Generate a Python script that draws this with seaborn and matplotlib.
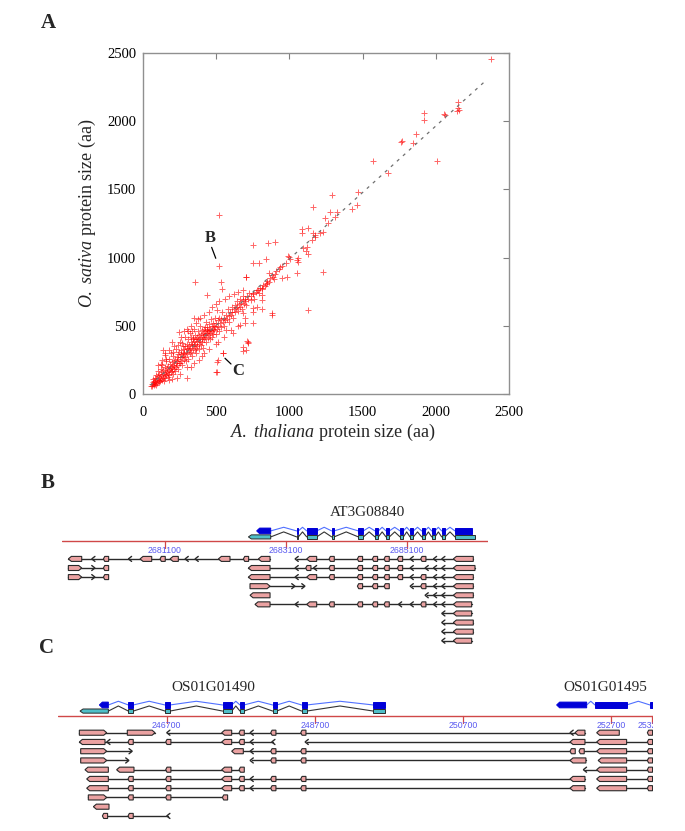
import numpy as np
import pandas as pd
import matplotlib
matplotlib.use("Agg")
import matplotlib.pyplot as plt
from matplotlib.patches import Polygon
import seaborn as sns

sns.set_style("white")
plt.rcParams['font.family'] = 'Liberation Serif'
plt.rcParams['mathtext.fontset'] = 'custom'
plt.rcParams['mathtext.rm'] = 'Liberation Serif'
plt.rcParams['mathtext.it'] = 'Liberation Serif:italic'

# ---------------- Panel A data: protein sizes (aa) ----------------
core_pts = [(55,62),(60,75),(62,58),(65,90),(68,70),(70,110),(72,64),(75,82),(78,95),(80,72),
    (82,120),(85,88),(88,66),(90,100),(92,140),(95,78),(98,115),(100,92),(102,170),(105,130),
    (108,85),(110,105),(112,150),(115,95),(118,125),(120,180),(122,110),(125,140),(128,100),(130,160),
    (132,210),(135,120),(138,145),(140,175),(142,95),(145,130),(148,200),(150,155),(152,118),(155,170),
    (158,240),(160,140),(162,190),(165,160),(168,125),(170,205),(172,150),(175,260),(178,175),(180,140),
    (182,220),(185,185),(188,160),(190,300),(192,200),(195,170),(198,235),(200,190),(202,150),(205,215),
    (208,280),(210,180),(212,240),(215,205),(218,165),(220,250),(222,225),(225,330),(228,195),(230,270),
    (232,240),(235,210),(238,290),(240,255),(242,180),(245,230),(248,310),(250,270),(252,225),(255,380),
    (258,290),(260,245),(262,320),(265,270),(268,210),(270,300),(272,350),(275,280),(278,250),(280,330),
    (282,300),(285,420),(288,270),(290,350),(292,310),(295,240),(298,330),(300,370),(302,290),(305,340),
    (308,260),(310,400),(312,320),(315,360),(318,300),(320,450),(322,340),(325,380),(328,310),(330,420),
    (332,350),(335,280),(338,370),(340,330),(342,400),(345,360),(348,480),(350,390),(352,320),(355,370),
    (358,430),(360,340),(362,400),(365,300),(368,380),(370,420),(372,350),(375,460),(378,400),(380,370),
    (382,330),(385,430),(388,390),(390,500),(392,410),(395,360),(398,440),(400,400),(402,470),(405,380),
    (408,420),(410,450),(412,340),(415,430),(418,480),(420,400),(422,460),(425,420),(428,530),(430,440),
    (432,380),(435,470),(438,450),(440,490),(442,410),(445,460),(448,430),(450,510),(452,470),(455,400),
    (458,480),(460,450),(462,550),(465,470),(468,420),(470,500),(472,460),(475,480),(478,520),(480,440),
    (485,500),(488,470),(490,560),(495,490),(498,440),(500,520),(505,480),(510,540),(515,500),(518,460),
    (520,560),(525,520),(530,490),(535,550),(540,600),(545,530),(550,500),(555,560),(560,540),(565,470),
    (570,580),(575,550),(580,620),(585,570),(590,530),(595,600),(600,580),(605,640),(610,600),(615,560),
    (620,620),(625,650),(630,600),(635,630),(640,680),(645,640),(650,610),(655,660),(660,700),(665,640),
    (670,670),(675,620),(680,690),(685,720),(690,660),(695,700),(700,680),(705,650),(710,720),(720,700),
    (725,740),(735,690),(740,720),(750,730),(760,700),(770,750),(780,760),(790,740),(800,780),(810,770),
    (820,800),(830,790),(840,810),(850,830),(860,820),(870,850),(880,870),(890,860),(900,880),(910,900),
    (930,920),(950,940),(980,960)]

spread_pts = [(160,260),(180,320),(210,350),(240,360),(130,250),(150,300),(120,220),(100,210),(260,420),
    (280,460),(300,480),(330,500),(360,520),(390,560),(420,580),(450,600),(470,640),(500,660),(520,680),
    (560,700),(590,720),(620,730),(650,750),(680,760),(200,110),(250,150),(300,200),(350,230),(400,280),
    (450,330),(500,370),(550,420),(600,470),(650,500),(700,560),(750,600),(780,640),(180,100),(230,120),
    (330,200),(380,250),(420,300),(248,457),(310,465),(335,465),(346,555),(423,493),(514,384),(544,298),
    (508,237),(499,164),(663,506),(719,376),(681,318),(150,286),(196,384),(299,115),(378,550),(508,616),
    (344,408),(268,371),(207,310),(139,323),(708,388),(685,347),(879,579),(617,444),(697,518),(685,591),
    (754,628),(811,623),(811,689),(811,726),(754,738),(783,762),(811,775),(845,811),(895,840),(704,860)]

outlier_pts = [(521,1312),(520,941),(530,823),(537,767),(355,823),(435,726),(754,1092),(856,1109),
    (902,1116),(749,958),(795,958),(840,987),(703,860),(879,591),(749,518),(719,384),(703,323),(549,303),
    (510,249),(503,164),(1000,1007),(1050,982),(936,933),(981,860),(947,848),(1050,885),(1095,1068),
    (1117,1080),(1112,1045),(1124,1030),(1084,1178),(1084,1207),(1129,1214),(1152,1129),(1163,1178),
    (1175,1154),(1159,1373),(1232,1185),(1232,897),(1129,616),(1061,995),(1243,1288),(1266,1251),
    (1277,1332),(1289,1459),(1311,1300),(1323,1336),(1425,1354),(1464,1385),(1471,1483),(1569,1708),
    (1676,1622),(1760,1850),(1846,1837),(1865,1903),(1921,2057),(1921,2008),(2010,1710),(2063,2045),
    (2377,2454),(2154,2143),(2154,2094),(2161,2082),(2147,2077),(2058,2053),(1767,1857),(863,889),
    (992,1012),(1004,987),(1061,970),(1209,1182),(1175,1165)]

fit_x = [50, 2350]
fit_y = [64, 2306]

pts = core_pts + spread_pts + outlier_pts
df = pd.DataFrame(pts, columns=["at", "os"])

# ---------------- Panel B data (genomic bp) ----------------
B_ticks = [2681100, 2683100, 2685100]
B_cds = [(2682615,2682847),(2683276,2683304),(2683442,2683607),(2683855,2683894),(2684296,2684378),
         (2684571,2684626),(2684753,2684808),(2684985,2685040),(2685150,2685205),(2685343,2685398),
         (2685508,2685563),(2685673,2685728),(2685893,2686169)]
B_utr = [(2682478,2682847),(2683276,2683304),(2683442,2683607),(2683855,2683894),(2684296,2684378),
         (2684571,2684626),(2684753,2684808),(2684985,2685040),(2685150,2685205),(2685343,2685398),
         (2685508,2685563),(2685673,2685728),(2685893,2686224)]
B_rows = [
    [[(2679502,2679723,'L'),(2679915,2679915,'l'),(2680125,2680125,'D'),(2680521,2680521,'l'),
      (2680687,2680880,'L'),(2681061,2681061,'D'),(2681183,2681320,'L'),(2681458,2681458,'l'),
      (2681623,2681623,'l'),(2681982,2682174,'L'),(2682439,2682439,'D'),(2682643,2682836,'L')],
     [(2683276,2683276,'l'),(2683442,2683607,'L'),(2683855,2683855,'D'),(2684323,2684323,'D'),
      (2684571,2684571,'D'),(2684764,2684764,'D'),(2684985,2684985,'D'),(2685178,2685178,'l'),
      (2685370,2685370,'D'),(2685563,2685563,'l'),(2685700,2685700,'l'),(2685866,2686196,'L')]],
    [[(2679502,2679723,'R'),(2679915,2679915,'r'),(2680125,2680125,'D')],
     [(2682478,2682836,'L'),(2683276,2683276,'l'),(2683469,2683469,'D'),(2683580,2683580,'l'),
      (2683855,2683855,'D'),(2684323,2684323,'D'),(2684571,2684571,'D'),(2684764,2684764,'D'),
      (2684985,2684985,'D'),(2685178,2685178,'l'),(2685425,2685425,'l'),(2685563,2685563,'l'),
      (2685700,2685700,'l'),(2685866,2686224,'L')]],
    [[(2679502,2679723,'R'),(2679915,2679915,'r'),(2680125,2680125,'D')],
     [(2682478,2682836,'L'),(2683276,2683276,'l'),(2683442,2683607,'L'),(2683855,2683855,'D'),
      (2684323,2684323,'D'),(2684571,2684571,'D'),(2684764,2684764,'D'),(2684985,2684985,'D'),
      (2685178,2685178,'l'),(2685370,2685370,'D'),(2685563,2685563,'l'),(2685700,2685700,'l'),
      (2685866,2686196,'L')]],
    [[(2682505,2682836,'R'),(2683221,2683221,'r'),(2683387,2683387,'r')],
     [(2684323,2684323,'D'),(2684571,2684571,'D'),(2684764,2684764,'D')],
     [(2685178,2685178,'l'),(2685370,2685370,'D'),(2685563,2685563,'l'),(2685700,2685700,'l'),
      (2685866,2686196,'L')]],
    [[(2682505,2682836,'L')],
     [(2685425,2685425,'l'),(2685563,2685563,'l'),(2685700,2685700,'l'),(2685866,2686196,'L')]],
    [[(2682588,2682836,'L'),(2683276,2683276,'l'),(2683442,2683607,'L'),(2683855,2683855,'D'),
      (2684323,2684323,'D'),(2684571,2684571,'D'),(2684764,2684764,'D'),(2684985,2684985,'l'),
      (2685178,2685178,'l'),(2685370,2685370,'D'),(2685563,2685563,'l'),(2685700,2685700,'l'),
      (2685866,2686169,'L')]],
    [[(2685700,2685700,'l'),(2685866,2686169,'L')]],
    [[(2685700,2685700,'l'),(2685866,2686196,'L')]],
    [[(2685700,2685700,'l'),(2685866,2686196,'L')]],
    [[(2685700,2685700,'l'),(2685866,2686169,'L')]],
]

# ---------------- Panel C data (genomic bp) ----------------
C_ticks = [246700, 248700, 250700, 252700, 253250]
C_tick_labels = ["246700", "248700", "250700", "252700", "253250"]
C_cds_490 = [(245792,245913),(246183,246250),(246678,246745),(247455,247577),(247689,247743),
             (248130,248184),(248521,248589),(249488,249645)]
C_utr_490 = [(245531,245913),(246183,246250),(246678,246745),(247455,247577),(247689,247743),
             (248130,248184),(248521,248589),(249488,249645)]
C_cds_495 = [(251961,252366),(252478,252905),(253220,253300)]
C_rows = [
    [[(245522,245891,'R'),(246169,246543,'R')],
     [(246722,246722,'l'),(247442,247577,'L'),(247712,247712,'D'),(247847,247847,'l'),(248139,248139,'D'),
      (248544,248544,'D'),(252163,252163,'l'),(252208,252343,'L')],
     [(252501,252806,'L')], [(253220,253220,'D')]],
    [[(245522,245868,'L'),(245913,245913,'l'),(246214,246214,'D'),(246722,246722,'D'),(247442,247577,'L'),
      (247712,247712,'D'),(247847,247847,'l'),(248139,248139,'l')],
     [(248589,248589,'l'),(252141,252343,'L'),(252501,252905,'L'),(253220,253220,'D')]],
    [[(245540,245891,'R'),(246214,246214,'r')],
     [(247577,247734,'L'),(247847,247847,'l'),(248139,248139,'D'),(248544,248544,'D'),(252177,252177,'D')],
     [(252298,252298,'D'),(252501,252905,'L'),(253220,253220,'D')]],
    [[(245540,245891,'R'),(246169,246169,'r')],
     [(247847,247847,'l'),(248139,248139,'D'),(248544,248544,'D'),(252141,252356,'L')],
     [(252522,252905,'L'),(253220,253220,'D')]],
    [[(245598,245913,'L')],
     [(246025,246259,'L'),(246722,246722,'D'),(247442,247577,'L'),(247712,247712,'D')],
     [(252343,252343,'l'),(252501,252905,'L'),(253220,253220,'D')]],
    [[(245621,245913,'L'),(246214,246214,'D'),(246722,246722,'D'),(247442,247577,'L'),(247712,247712,'D'),
      (247847,247847,'l'),(248139,248139,'D'),(248544,248544,'D'),(252141,252343,'L')],
     [(252501,252905,'L'),(253220,253220,'D')]],
    [[(245621,245913,'L'),(246214,246214,'D'),(246722,246722,'D'),(247442,247577,'L'),(247712,247712,'D'),
      (247847,247847,'l'),(248139,248139,'D'),(248544,248544,'D'),(252141,252343,'L')],
     [(252501,252905,'L'),(253220,253220,'D')]],
    [[(245643,245891,'R'),(246214,246214,'D'),(246722,246722,'D'),(247487,247487,'D')]],
    [[(245711,245922,'L')]],
    [[(245868,245868,'D'),(246214,246214,'D'),(246722,246722,'l')]],
]

W, H = 685, 831
fig = plt.figure(figsize=(W / 100, H / 100), dpi=100)

# ---------------- Panel A ----------------
ax = fig.add_axes([143 / W, 1 - 394 / H, 366 / W, 341 / H])
sns.lineplot(x=fit_x, y=fit_y, ax=ax, color="#707070", lw=0.9, linestyle=(0, (2.5, 4)), zorder=3)
sns.scatterplot(data=df, x="at", y="os", ax=ax, marker="+", color="#ff0000", s=18,
                linewidth=0.7, alpha=0.6, zorder=2)
ax.set_xlim(0, 2500)
ax.set_ylim(0, 2500)
ticks = [0, 500, 1000, 1500, 2000, 2500]
ax.set_xticks(ticks)
ax.set_yticks(ticks)
ax.tick_params(direction="in", top=True, right=True, length=4, width=0.8, color="#808080",
               labelsize=10.5, labelcolor="black")
ax.tick_params(axis="x", pad=9)
ax.tick_params(axis="y", pad=5)
for sp in ax.spines.values():
    sp.set_color("#909090")
    sp.set_linewidth(1.0)
ax.set_xlabel(r"$\mathit{A.}$ $\mathit{thaliana}$ protein size (aa)", fontsize=13, va="center")
ax.set_ylabel(r"$\mathit{O.}$ $\mathit{sativa}$ protein size (aa)", fontsize=13, va="center")
ax.xaxis.set_label_coords(0.519, -0.112)
ax.yaxis.set_label_coords(-0.153, 0.531)
ax.text(458, 1143, "B", fontsize=12, fontweight="bold", ha="center", va="center")
ax.plot([469, 497], [1075, 995], color="black", lw=0.9)
ax.text(647, 171, "C", fontsize=12, fontweight="bold", ha="center", va="center")
ax.plot([560, 601], [262, 220], color="black", lw=0.9)

fig.text(48 / W, 1 - 23 / H, "A", fontsize=15, fontweight="bold", ha="center", va="center")
fig.text(48 / W, 1 - 483 / H, "B", fontsize=15, fontweight="bold", ha="center", va="center")
fig.text(47 / W, 1 - 648 / H, "C", fontsize=15, fontweight="bold", ha="center", va="center")

PINK = "#eba2a2"
EDGE = "#2a2a2a"


def draw_exon(a, s, e, kind, y, bp_px, h=0.55):
    tip = 3 * bp_px
    half = h / 2
    if kind in ("l", "r"):
        d = 1.6 * bp_px if kind == "l" else -1.6 * bp_px
        a.plot([s + d, s - d, s + d], [y + half, y, y - half], color=EDGE, lw=1.0,
               solid_joinstyle="miter", zorder=4)
        return
    if kind == "D" or e - s < 2.5 * tip:
        c = (s + e) / 2
        w = 2.6 * bp_px
        pts = [(c - w, y), (c - w / 2, y + half), (c + w, y + half), (c + w, y - half), (c - w / 2, y - half)]
    elif kind == "L":
        pts = [(s, y), (s + tip, y + half), (e, y + half), (e, y - half), (s + tip, y - half)]
    else:
        pts = [(s, y + half), (e - tip, y + half), (e, y), (e - tip, y - half), (s, y - half)]
    a.add_patch(Polygon(pts, closed=True, facecolor=PINK, edgecolor=EDGE, lw=0.8, zorder=4))


def draw_track(a, rows, row0, bp_px):
    for i, row in enumerate(rows):
        y = row0 - i
        for seg in row:
            if len(seg) > 1:
                a.plot([seg[0][0], seg[-1][1]], [y, y], color=EDGE, lw=1.0, zorder=3)
            for s, e, k in seg:
                draw_exon(a, s, e, k, y, bp_px)


def draw_model(a, exons, y, color, edge, h, bp_px, intron_color, peak):
    for j, (s, e) in enumerate(exons):
        tip = 3 * bp_px
        half = h / 2
        if j == 0 and e - s > 2 * tip:
            pts = [(s, y), (s + tip, y + half), (e, y + half), (e, y - half), (s + tip, y - half)]
        else:
            pts = [(s, y + half), (e, y + half), (e, y - half), (s, y - half)]
        a.add_patch(Polygon(pts, closed=True, facecolor=color, edgecolor=edge, lw=0.7, zorder=4))
        if j < len(exons) - 1:
            n = exons[j + 1][0]
            a.plot([e, (e + n) / 2, n], [y, y + peak, y], color=intron_color, lw=0.8, zorder=3)


def genome_panel(rect, xlim, ylim, ticks, labels, bp_px):
    a = fig.add_axes(rect)
    a.set_xlim(*xlim)
    a.set_ylim(*ylim)
    a.axis("off")
    a.axhline(0, color="#d04848", lw=1.0, zorder=2)
    for t, lab in zip(ticks, labels):
        a.plot([t, t], [0, -0.75], color="#d04848", lw=0.9)
        a.text(t, -1.05, lab, fontsize=6.3, color="#5a5af0", ha="center", va="center",
               family="Liberation Sans", clip_on=True)
    return a


# ---------------- Panel B ----------------
B_bp_px = 16.53
axb = genome_panel([62 / W, 1 - 650 / H, 426 / W, 150 / H], (2679397, 2686439), (-12.0, 4.5),
                   B_ticks, [str(t) for t in B_ticks], B_bp_px)
draw_model(axb, B_utr, 0.44, "#4fbfc8", EDGE, 0.45, B_bp_px, "#333333", 0.55)
draw_model(axb, B_cds, 1.1, "#0000d8", "#0000d8", 0.62, B_bp_px, "#5070ff", 0.4)
axb.text(2684440, 3.1, "AT3G08840", fontsize=11, ha="center", va="center")
draw_track(axb, B_rows, -1.98, B_bp_px)

# ---------------- Panel C ----------------
C_bp_px = 13.49
axc = genome_panel([58.3 / W, 1 - 825 / H, 595 / W, 145 / H], (245238, 253265), (-11.82, 3.86),
                   C_ticks, C_tick_labels, C_bp_px)
draw_model(axc, C_utr_490, 0.5, "#4fbfc8", EDGE, 0.45, C_bp_px, "#333333", 0.55)
draw_model(axc, C_cds_490, 1.16, "#0000d8", "#0000d8", 0.62, C_bp_px, "#5070ff", 0.4)
draw_model(axc, C_cds_495, 1.16, "#0000d8", "#0000d8", 0.62, C_bp_px, "#5070ff", 0.4)
axc.text(247325, 3.0, "OS01G01490", fontsize=11, ha="center", va="center")
axc.text(252613, 3.0, "OS01G01495", fontsize=11, ha="center", va="center")
draw_track(axc, C_rows, -1.84, C_bp_px)

fig.savefig("out.png", dpi=100)
